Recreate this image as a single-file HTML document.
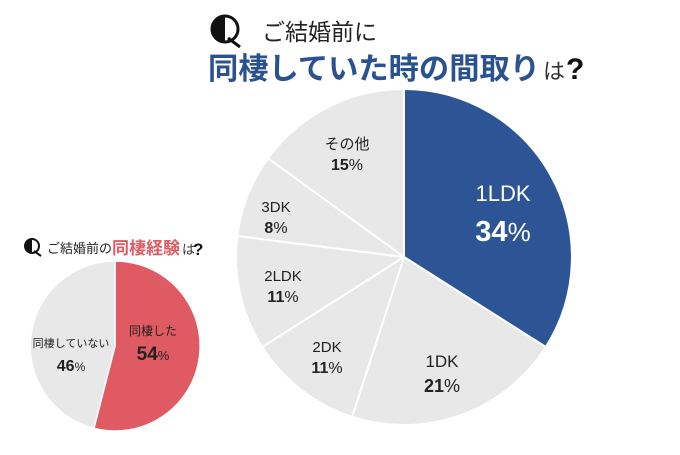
<!DOCTYPE html>
<html><head><meta charset="utf-8"><style>
body{margin:0;background:#fff;}
svg text{font-family:"Liberation Sans","Noto Sans CJK JP",sans-serif;}
</style></head><body>
<svg width="680" height="450" viewBox="0 0 680 450" xmlns="http://www.w3.org/2000/svg">
<rect width="680" height="450" fill="#fff"/>
<!-- big title -->
<g transform="translate(210,14)">
<circle cx="15" cy="15" r="13" fill="#fff" stroke="#111" stroke-width="3"/>
<path d="M15 2 A13 13 0 0 0 15 28 Z" fill="#111"/>
<path d="M18 24 L30 33" stroke="#111" stroke-width="3"/>
</g>
<text x="262" y="40" font-size="23" fill="#222">ご結婚前に</text>
<text x="208" y="79" font-size="30" font-weight="bold" fill="#2b5290" textLength="332" lengthAdjust="spacingAndGlyphs">同棲していた時の間取り</text>
<text x="543" y="79" font-size="22" fill="#333">は</text>
<text x="566" y="79" font-size="30" font-weight="bold" fill="#111">?</text>

<!-- big pie -->
<g stroke="#fff" stroke-width="2" stroke-linejoin="round">
<path d="M404 257 L404 89 A168 168 0 0 1 545.8 347 Z" fill="#2d5596"/>
<path d="M404 257 L545.8 347 A168 168 0 0 1 352.1 416.8 Z" fill="#e8e8e8"/>
<path d="M404 257 L352.1 416.8 A168 168 0 0 1 262.2 347 Z" fill="#e8e8e8"/>
<path d="M404 257 L262.2 347 A168 168 0 0 1 237.3 236 Z" fill="#e8e8e8"/>
<path d="M404 257 L237.3 236 A168 168 0 0 1 268.1 158.3 Z" fill="#e8e8e8"/>
<path d="M404 257 L268.1 158.3 A168 168 0 0 1 404 89 Z" fill="#e8e8e8"/>
</g>
<g text-anchor="middle" fill="#222">
<text x="347" y="149" font-size="15">その他</text>
<text x="347" y="170" font-size="16"><tspan font-weight="bold">15</tspan>%</text>
<text x="503" y="201" font-size="22" fill="#fff">1LDK</text>
<text x="503" y="241" font-size="26" fill="#fff"><tspan font-weight="bold" font-size="29">34</tspan>%</text>
<text x="276" y="212" font-size="15">3DK</text>
<text x="276" y="233" font-size="16"><tspan font-weight="bold">8</tspan>%</text>
<text x="283" y="281" font-size="15">2LDK</text>
<text x="283" y="302" font-size="16"><tspan font-weight="bold">11</tspan>%</text>
<text x="327" y="352" font-size="15">2DK</text>
<text x="327" y="373" font-size="16"><tspan font-weight="bold">11</tspan>%</text>
<text x="442" y="367" font-size="17">1DK</text>
<text x="442" y="392" font-size="18"><tspan font-weight="bold">21</tspan>%</text>
</g>

<!-- small title -->
<g transform="translate(24,238)">
<circle cx="8" cy="8" r="7" fill="#fff" stroke="#111" stroke-width="2"/>
<path d="M8 1 A7 7 0 0 0 8 15 Z" fill="#111"/>
<path d="M10 13 L17 18" stroke="#111" stroke-width="2"/>
</g>
<text x="47" y="253" font-size="13" fill="#222">ご結婚前の</text>
<text x="112" y="254" font-size="17" font-weight="bold" fill="#e05a64">同棲経験</text>
<text x="182" y="254" font-size="13" fill="#333">は</text>
<text x="193" y="255" font-size="17" font-weight="bold" fill="#111">?</text>

<!-- small pie -->
<g stroke="#fff" stroke-width="1.5">
<path d="M115 346 L115 261 A85 85 0 1 1 93.9 428.3 Z" fill="#e05a64"/>
<path d="M115 346 L93.9 428.3 A85 85 0 0 1 115 261 Z" fill="#e8e8e8"/>
</g>
<g text-anchor="middle" fill="#222">
<text x="153" y="335" font-size="12">同棲した</text>
<text x="153" y="360" font-size="13"><tspan font-weight="bold" font-size="19">54</tspan>%</text>
<text x="71" y="347" font-size="11">同棲していない</text>
<text x="71" y="371" font-size="12"><tspan font-weight="bold" font-size="16">46</tspan>%</text>
</g>
</svg>
</body></html>
